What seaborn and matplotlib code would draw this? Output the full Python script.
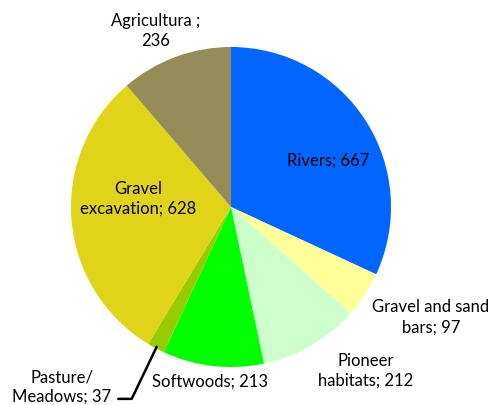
import numpy as np
import matplotlib
matplotlib.use("Agg")
import matplotlib.pyplot as plt
import seaborn as sns

# Data
categories = ["Rivers", "Gravel and sand\nbars", "Pioneer\nhabitats", "Softwoods",
              "Pasture/\nMeadows", "Gravel\nexcavation", "Agricultura ;\n"]
values = [667, 97, 212, 213, 37, 628, 236]
colors = ["#0066FF", "#FFFF99", "#CCFFCC", "#00FF00", "#99CC00", "#E0D418", "#968C57"]

# where each label sits (pie radius = 1)
label_xy = [(0.61, 0.29), (1.25, -0.69), (0.84, -1.025), (-0.13, -1.09),
            (-1.056, -1.125), (-0.58, 0.05), (-0.47, 1.10)]

sns.set_theme(style="white")
plt.rcParams['font.family'] = ['Lato', 'DejaVu Sans']

fig = plt.figure(figsize=(4.96, 4.05), dpi=100)
ax = fig.add_axes([71 / 496, 38 / 405, 320 / 496, 320 / 405])

wedges, _ = ax.pie(values, colors=colors, startangle=90, counterclock=False,
                   radius=1.0, wedgeprops=dict(linewidth=0))
ax.set_xlim(-1, 1)
ax.set_ylim(-1, 1)
ax.axis("off")

for cat, val, (x, y) in zip(categories, values, label_xy):
    sep = "" if cat.endswith("\n") else "; "
    ax.text(x, y, "%s%s%d" % (cat, sep, val), ha="center", va="center",
            fontsize=12, color="black", linespacing=1.3, clip_on=False)

# leader line for the small Pasture slice
w = wedges[4]
ang = np.deg2rad((w.theta1 + w.theta2) / 2)
x0, y0 = 0.99 * np.cos(ang), 0.99 * np.sin(ang)
ax.plot([x0, x0 - 0.156, x0 - 0.24], [y0, y0 - 0.325, y0 - 0.325],
        color="black", lw=1.8, clip_on=False)

fig.savefig("out.png", dpi=100)
